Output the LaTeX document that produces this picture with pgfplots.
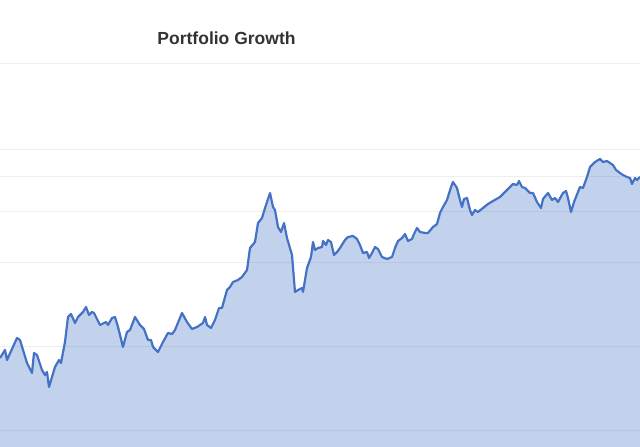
\documentclass[border=0pt]{standalone}
\usepackage{fontspec}
\setmainfont{Liberation Sans}
\usepackage{pgfplots}
\usepackage{pgfplotstable}
\pgfplotsset{compat=1.18}
\definecolor{lineblue}{HTML}{4472C4}
\definecolor{gridgray}{HTML}{EEEEEE}
\definecolor{titlegray}{HTML}{333333}

% values are pixel heights (y = 447 - row)
\pgfplotstableread{
x y
0 89
5 97
7 87
17 109
20 107
27 84
32 74
34 94
37 92
42 77
45 72
47 75
49 60
55 80
59 87
61 84
65 105
68 130
71 133
75 124
78 130
83 135
86 140
89 132
92 135
94 134
100 122
106 125
108 122
112 129
115 130
118 120
123 100
127 115
130 117
135 130
140 122
144 118
148 107
151 107
153 100
158 95
163 105
168 114
172 113
175 117
182 134
187 125
192 118
197 120
200 122
203 124
205 130
207 122
211 119
215 127
219 139
222 139
227 157
230 160
233 165
238 167
242 170
247 177
250 199
255 205
258 224
262 229
265 239
270 254
273 240
275 237
278 220
281 215
284 224
287 209
292 192
295 155
298 157
302 159
303 155
307 179
311 190
313 205
315 197
318 199
322 200
323 206
326 202
328 207
331 205
334 192
337 195
340 199
345 207
348 210
353 211
357 208
360 202
363 194
367 195
369 189
372 194
375 200
378 198
382 190
387 188
392 190
395 199
398 206
402 209
405 213
408 206
412 208
414 213
417 219
420 215
425 214
428 214
433 220
437 223
440 234
443 240
447 247
451 260
453 265
457 259
460 247
462 240
464 248
467 249
470 237
472 232
475 237
478 235
483 239
488 243
493 246
500 250
505 255
510 260
513 263
517 262
519 266
522 260
525 259
528 256
530 254
533 254
537 245
541 239
543 248
548 254
552 247
555 249
558 245
563 254
566 256
568 249
571 235
574 245
580 260
583 259
587 270
590 280
595 285
600 288
603 285
607 286
610 284
613 282
616 277
620 274
623 272
627 270
630 269
632 263
635 269
637 267
640 270
}\growth

\begin{document}
\begin{tikzpicture}
\begin{axis}[
    at={(0,0)}, anchor=south west,
    width=640pt, height=447pt,
    scale only axis,
    xmin=0, xmax=640,
    ymin=0, ymax=447,
    axis line style={draw=none},
    tick style={draw=none},
    xtick=\empty,
    ytick={16,100,184,235,270,297,383},
    yticklabels={},
    ymajorgrids=true,
    grid style={gridgray, line width=1pt},
    clip=true,
]
\addplot[draw=none, fill=lineblue, fill opacity=0.32] table[x=x, y=y] {\growth} \closedcycle;
\addplot[lineblue, line width=2.2pt, line join=round] table[x=x, y=y] {\growth};
\node[anchor=base, font=\fontsize{17.5}{20}\selectfont\bfseries, text=titlegray, inner sep=0pt]
    at (axis cs:226.5,402) {Portfolio Growth};
\end{axis}
\pgfresetboundingbox
\useasboundingbox (0,0) rectangle (640pt,447pt);
\end{tikzpicture}
\end{document}
